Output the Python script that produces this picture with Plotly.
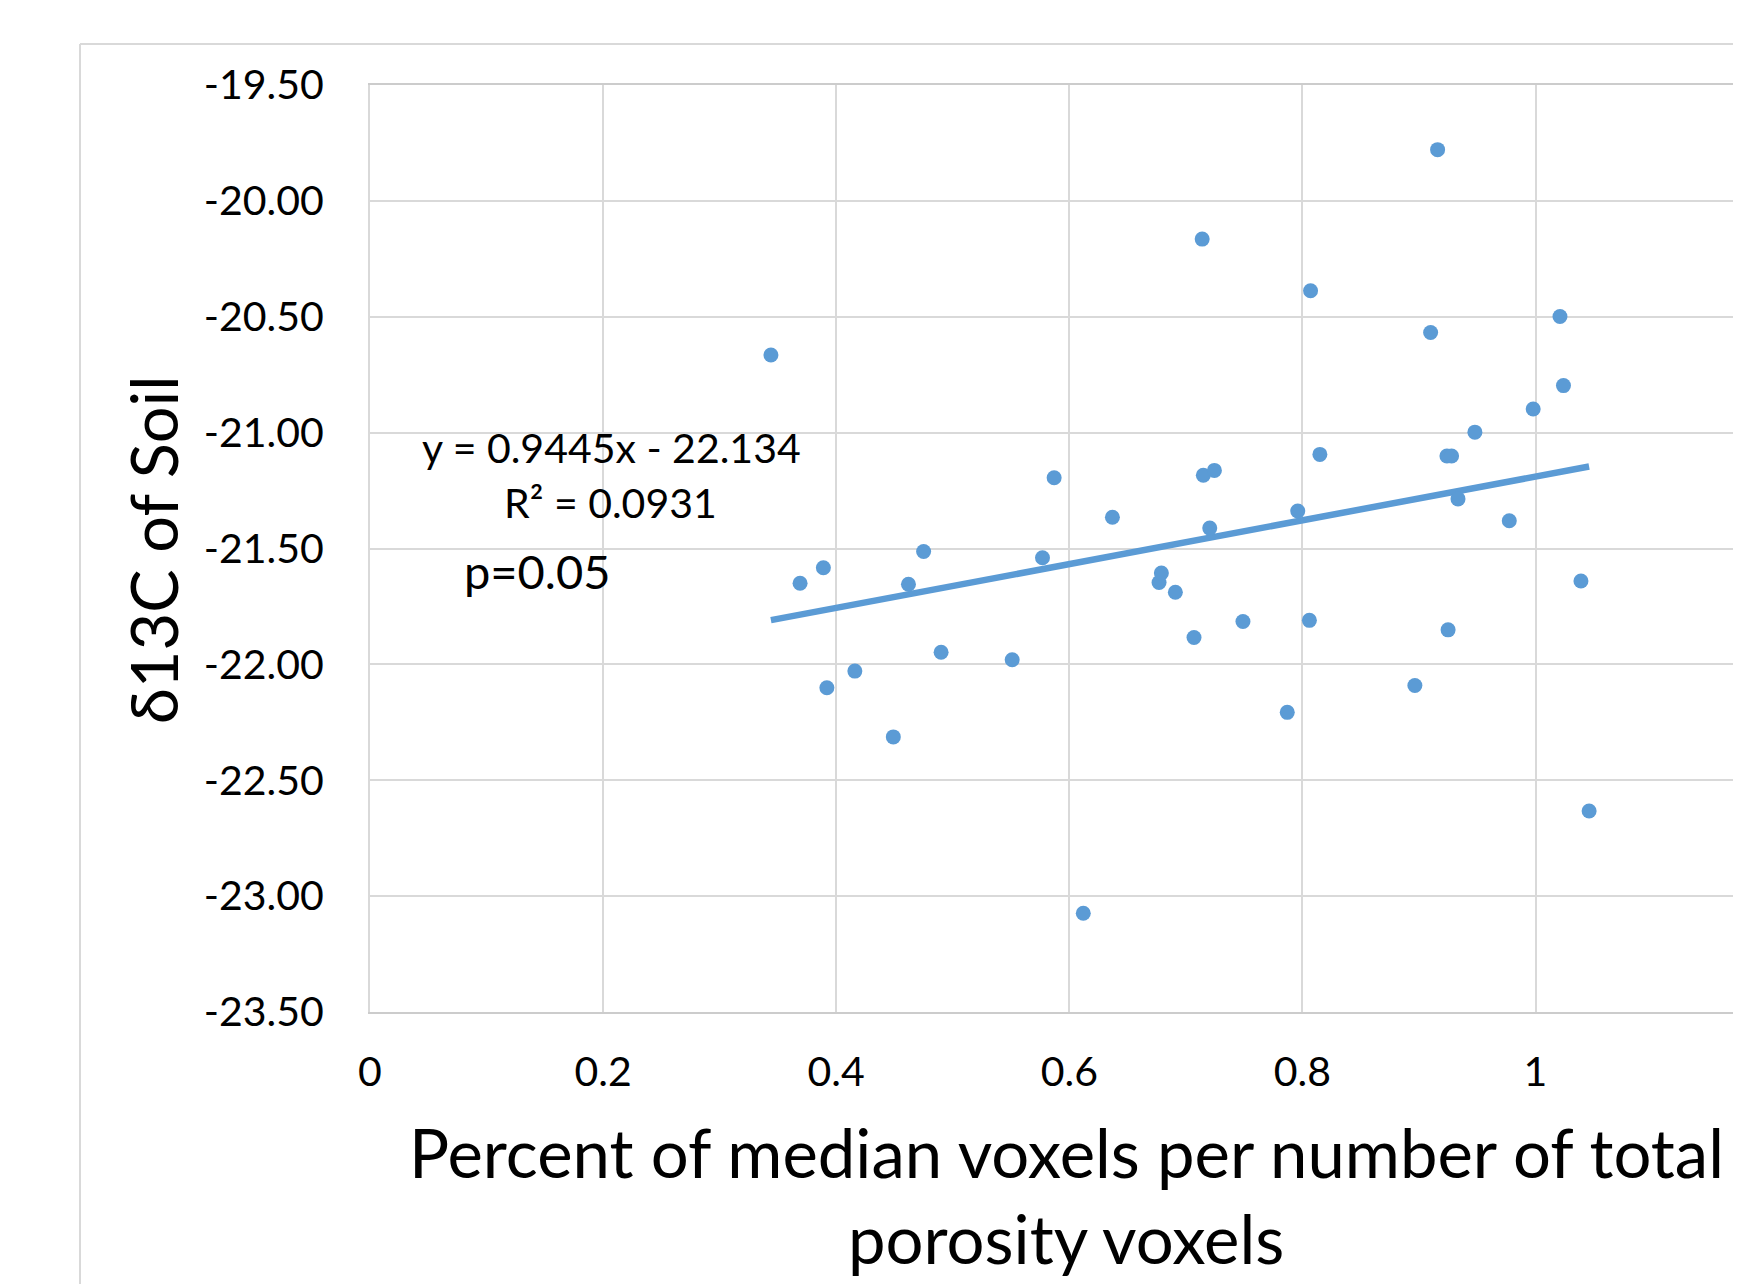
import plotly.graph_objects as go

# ---- data ----
porosity_frac = [0.344, 0.369, 0.389, 0.392, 0.416, 0.449, 0.462, 0.475, 0.490, 0.551,
                 0.577, 0.587, 0.612, 0.637, 0.677, 0.679, 0.691, 0.707, 0.714, 0.715,
                 0.7245, 0.7205, 0.749, 0.787, 0.796, 0.806, 0.807, 0.815, 0.8965, 0.910,
                 0.916, 0.924, 0.928, 0.925, 0.9335, 0.948, 0.9775, 0.998, 1.021, 1.024,
                 1.039, 1.046]
d13c_soil = [-20.665, -21.650, -21.583, -22.101, -22.029, -22.313, -21.654, -21.513, -21.948, -21.980,
             -21.540, -21.195, -23.074, -21.365, -21.647, -21.606, -21.689, -21.884, -20.165, -21.184,
             -21.163, -21.412, -21.815, -22.207, -21.338, -21.810, -20.388, -21.094, -22.091, -20.568,
             -19.779, -21.101, -21.101, -21.851, -21.286, -20.998, -21.380, -20.898, -20.499, -20.797,
             -21.640, -22.633]

trend_slope = 0.9445
trend_intercept = -22.134

x_tickvals = [0, 0.2, 0.4, 0.6, 0.8, 1.0]
x_ticktext = ["0", "0.2", "0.4", "0.6", "0.8", "1"]
y_tickvals = [-19.5, -20.0, -20.5, -21.0, -21.5, -22.0, -22.5, -23.0, -23.5]
y_ticktext = ["-19.50", "-20.00", "-20.50", "-21.00", "-21.50", "-22.00", "-22.50", "-23.00", "-23.50"]

equation_text = "y = 0.9445x - 22.134"
r2_text = "R² = 0.0931"
p_text = "p=0.05"
x_title_lines = ["Percent of median voxels per number of total", "porosity voxels"]
y_title = "δ13C of Soil"

# ---- layout geometry (page body adds an 8px offset; the chart runs past the
#      right edge of the window, as in the cropped reference) ----
OFF = 8
EXTRA = 30
W, H = 1741 - OFF + EXTRA, 1284 - OFF + EXTRA
PLOT_L, PLOT_T, PLOT_B = 370, 85, 1012          # in screen pixels
ML, MR, MT = PLOT_L - OFF, 0, PLOT_T - OFF
MB = H - (PLOT_B - OFF)
PW = W - ML - MR
PH = H - MT - MB
X_PER_UNIT = 1165.5
x_max = PW / X_PER_UNIT


def px(xs):
    return (xs - OFF - ML) / PW


def py(ys):
    return (H - MB - (ys - OFF)) / PH


BLUE = "#5B9BD5"
GRID = "#d9d9d9"
AXIS = "#cccccc"
FONT = "Lato"

tx = [min(porosity_frac), max(porosity_frac)]
ty = [trend_slope * v + trend_intercept for v in tx]

fig = go.Figure()
fig.add_trace(go.Scatter(x=tx, y=ty, mode="lines",
                         line=dict(color=BLUE, width=6.5),
                         showlegend=False, hoverinfo="skip"))
fig.add_trace(go.Scatter(x=porosity_frac, y=d13c_soil, mode="markers",
                         marker=dict(color=BLUE, size=15, line=dict(width=0)),
                         showlegend=False, hoverinfo="x+y"))

fig.update_layout(
    width=W, height=H,
    margin=dict(l=ML, r=MR, t=MT, b=MB, pad=0),
    paper_bgcolor="white", plot_bgcolor="white",
    font=dict(family=FONT, color="black"),
    showlegend=False,
    xaxis=dict(range=[0, x_max], tickvals=x_tickvals, ticktext=x_ticktext,
               showgrid=True, gridcolor=GRID, gridwidth=1.5,
               showline=True, linecolor=AXIS, linewidth=2, mirror=True,
               zeroline=False, ticks="", tickfont=dict(family=FONT, size=41, color="black"),
               ticklabelstandoff=23),
    yaxis=dict(range=[-23.5, -19.5], tickvals=y_tickvals, ticktext=y_ticktext,
               showgrid=True, gridcolor=GRID, gridwidth=1.5,
               showline=True, linecolor=GRID, linewidth=2,
               zeroline=False, ticks="", tickfont=dict(family=FONT, size=41, color="black"),
               ticklabelstandoff=36),
)

annotations = [
    dict(text=equation_text, x=px(611), y=py(447), font=dict(size=41)),
    dict(text=r2_text, x=px(610), y=py(502), font=dict(size=41)),
    dict(text=p_text, x=px(537), y=py(571), font=dict(size=47)),
    dict(text=x_title_lines[0], x=px(1066), y=py(1152), font=dict(size=67)),
    dict(text=x_title_lines[1], x=px(1066), y=py(1238), font=dict(size=67)),
    dict(text=y_title, x=px(153), y=py(549), font=dict(size=65), textangle=-90),
]
for a in annotations:
    a.update(xref="paper", yref="paper", showarrow=False,
             xanchor="center", yanchor="middle")
    a["font"].update(family=FONT, color="black")
fig.update_layout(annotations=annotations)

# chart-area border (cut off on the right and bottom in the reference)
fig.add_shape(type="line", xref="paper", yref="paper",
              x0=px(80), x1=px(80), y0=py(44), y1=py(1284 + EXTRA),
              line=dict(color=GRID, width=2))
fig.add_shape(type="line", xref="paper", yref="paper",
              x0=px(80), x1=px(1741 + EXTRA), y0=py(44), y1=py(44),
              line=dict(color=GRID, width=2))

fig.write_html("out.html")
